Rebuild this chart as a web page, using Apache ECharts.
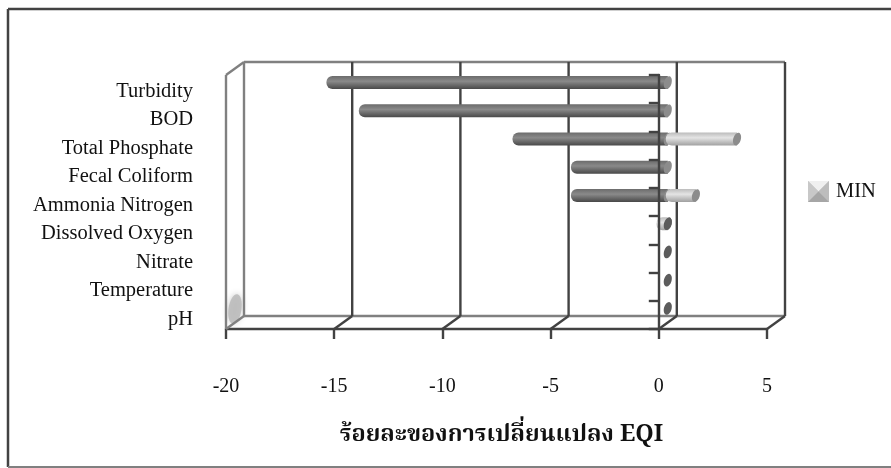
<!DOCTYPE html>
<html>
<head>
<meta charset="utf-8">
<style>html,body{margin:0;padding:0;background:#fff}#chart{width:891px;height:468px}</style>
<script src="https://cdn.jsdelivr.net/npm/echarts@6/dist/echarts.min.js"></script>
</head>
<body>
<div id="chart"></div>
<script>
// Percentage change of EQI per water quality parameter
const categories = ['Turbidity', 'BOD', 'Total Phosphate', 'Fecal Coliform', 'Ammonia Nitrogen', 'Dissolved Oxygen', 'Nitrate', 'Temperature', 'pH'];
const minValues = [0, 0, 3.2, 0, 1.3, -0.35, 0, 0, 0];
const lowValues = [-15.6, -14.1, -7.0, -4.3, -4.3, 0, 0, 0, 0];
const xTicks = [-20, -15, -10, -5, 0, 5];
const axisTitle = 'ร้อยละของการเปลี่ยนแปลง EQI';

const SERIF = '"Liberation Serif", "Times New Roman", serif';
const THAI = '"Noto Serif Thai", "Noto Sans Thai", "Liberation Serif", "DejaVu Serif", "Noto Sans", serif';
const DARK = '#424242', MID = '#808080';
// Oblique depth of the 3D frame; the bars sit halfway into it
const DX = 18, DY = -13;
const BAR_H = 13, CAP_RX = 3.8;

const grad = (a, b, c) => ({
  type: 'linear', x: 0, y: 0, x2: 0, y2: 1,
  colorStops: [{offset: 0, color: a}, {offset: 0.4, color: b}, {offset: 1, color: c}]
});
const DARK_FILL = grad('#6c6c6c', '#8a8a8a', '#484848');
const LIGHT_FILL = grad('#bcbcbc', '#e4e4e4', '#a0a0a0');

function cap(cx, cy, fill) {
  return {
    type: 'ellipse', originX: cx, originY: cy, rotation: -0.28,
    shape: {cx, cy, rx: CAP_RX, ry: BAR_H / 2}, style: {fill}
  };
}
function cylinder(x0, x1, cy, fill, capFill) {
  const kids = [];
  if (x1 > x0) {
    kids.push({
      type: 'rect',
      shape: {x: x0, y: cy - BAR_H / 2, width: x1 - x0, height: BAR_H, r: [6, 0, 0, 6]},
      style: {fill}
    });
  }
  kids.push(cap(x1, cy, capFill));
  return {type: 'group', children: kids};
}

function renderLow(params, api) {
  const v = api.value(0), idx = api.value(1);
  const p = api.coord([v, idx]), o = api.coord([0, idx]);
  const cy = p[1] + DY / 2, end = o[0] + DX / 2;
  const start = p[0] + DX / 2 - CAP_RX;
  if (v === 0) return cap(end, cy, '#5c5c5c');
  return cylinder(start, end, cy, DARK_FILL, '#8c8c8c');
}
function renderMin(params, api) {
  const v = api.value(0), idx = api.value(1);
  if (v === 0) return null;
  const p = api.coord([v, idx]), o = api.coord([0, idx]);
  const cy = p[1] + DY / 2, zero = o[0] + DX / 2, tip = p[0] + DX / 2;
  if (v < 0) return cylinder(tip - CAP_RX, zero, cy, LIGHT_FILL, '#5c5c5c');
  return cylinder(zero - 2, tip, cy, LIGHT_FILL, '#8c8c8c');
}
// One wall line and floor diagonal for every value tick
function renderFrame(params, api) {
  const v = api.value(0);
  const last = categories.length - 1;
  const band = api.size([0, 1])[1];
  const x = api.coord([v, last])[0];
  const yb = api.coord([v, last])[1] + band / 2;
  const yt = api.coord([v, 0])[1] - band / 2;
  const first = v === xTicks[0];
  const stroke = first ? MID : DARK;
  const line = (a, b, c, d, col) => ({
    type: 'line', shape: {x1: a, y1: b, x2: c, y2: d}, style: {stroke: col, lineWidth: 2.4}
  });
  const kids = [
    line(x + DX, yb + DY, x + DX, yt + DY, stroke),
    line(x, yb, x + DX, yb + DY, stroke)
  ];
  if (first) {
    const xEnd = api.coord([xTicks[xTicks.length - 1], last])[0];
    kids.push(line(x, yb, x, yt, MID));
    kids.push(line(x, yt, x + DX, yt + DY, MID));
    kids.push(line(x + DX, yt + DY, xEnd + DX, yt + DY, MID));
    kids.push(line(x + DX, yb + DY, xEnd + DX, yb + DY, MID));
  }
  return {type: 'group', children: kids};
}

const chart = echarts.init(document.getElementById('chart'), null, {renderer: 'canvas'});
chart.setOption({
  animation: false,
  backgroundColor: '#fff',
  // The second grid only spaces the category labels, which run a little wider than the bars
  grid: [
    {left: 226, right: 124, top: 75, bottom: 139},
    {left: 226, right: 124, top: 77, bottom: 134.5}
  ],
  legend: {
    data: [{name: 'MIN', icon: 'rect'}],
    left: 803, top: 176, itemWidth: 21, itemHeight: 21, itemGap: 7,
    selectedMode: false,
    itemStyle: {color: '#c4c4c4'},
    textStyle: {fontFamily: SERIF, fontSize: 20.5, color: '#111', padding: [0, 0, 0, 2]}
  },
  xAxis: [{
    type: 'value', min: -20, max: 5, interval: 5,
    axisLine: {show: true, onZero: false, lineStyle: {color: DARK, width: 2.4}},
    axisTick: {show: true, length: 10, lineStyle: {color: DARK, width: 2.4}},
    axisLabel: {margin: 48, fontFamily: SERIF, fontSize: 20, color: '#111'},
    splitLine: {show: false},
    name: axisTitle, nameLocation: 'middle', nameGap: 96,
    nameTextStyle: {fontFamily: THAI, fontSize: 23.5, fontWeight: 'bold', color: '#111', padding: [0, 0, 0, 10]}
  }, {
    type: 'value', gridIndex: 1, min: -20, max: 5, show: false
  }],
  yAxis: [{
    type: 'category', data: categories, inverse: true, position: 'left',
    axisLine: {show: false, onZero: false}, axisTick: {show: false}, axisLabel: {show: false}
  }, {
    // Category axis line crossing at zero, carrying only the tick marks
    type: 'category', data: categories, inverse: true, position: 'left',
    axisLine: {show: true, onZero: true, onZeroAxisIndex: 0, lineStyle: {color: DARK, width: 2.4}},
    axisTick: {show: true, length: 10, lineStyle: {color: DARK, width: 2.4}},
    axisLabel: {show: false}, z: 5
  }, {
    type: 'category', gridIndex: 1, data: categories, inverse: true, position: 'left',
    axisLine: {show: false, onZero: false}, axisTick: {show: false},
    axisLabel: {margin: 33, fontFamily: SERIF, fontSize: 20.5, color: '#111'}
  }],
  graphic: [
    {type: 'line', shape: {x1: 8, y1: 9, x2: 891, y2: 9}, style: {stroke: DARK, lineWidth: 2.5}},
    {type: 'line', shape: {x1: 8, y1: 9, x2: 8, y2: 467}, style: {stroke: DARK, lineWidth: 2.5}},
    {type: 'line', shape: {x1: 8, y1: 467, x2: 891, y2: 467}, style: {stroke: MID, lineWidth: 2}},
    // Shaded patch low on the side wall
    {type: 'ellipse', shape: {cx: 235, cy: 309, rx: 6.5, ry: 15}, rotation: -0.15, originX: 235, originY: 309,
     style: {fill: '#bcbcbc', opacity: 0.9, shadowBlur: 6, shadowColor: '#c4c4c4'}, z: 1},
    // Bevelled legend swatch
    {type: 'polygon', shape: {points: [[808,181],[829,181],[818.5,191.5]]}, style: {fill: '#f0f0f0'}, z: 20},
    {type: 'polygon', shape: {points: [[808,181],[818.5,191.5],[808,202]]}, style: {fill: '#c8c8c8'}, z: 20},
    {type: 'polygon', shape: {points: [[829,181],[818.5,191.5],[829,202]]}, style: {fill: '#bdbdbd'}, z: 20},
    {type: 'polygon', shape: {points: [[808,202],[829,202],[818.5,191.5]]}, style: {fill: '#a6a6a6'}, z: 20}
  ],
  series: [{
    name: 'Frame', type: 'custom', silent: true, z: 1, clip: false,
    renderItem: renderFrame, encode: {x: 0},
    data: xTicks.map(v => [v])
  }, {
    name: 'LOW', type: 'custom', z: 3, clip: false,
    renderItem: renderLow, encode: {x: 0, y: 1},
    data: lowValues.map((v, i) => [v, i])
  }, {
    name: 'MIN', type: 'custom', z: 4, clip: false,
    renderItem: renderMin, encode: {x: 0, y: 1},
    itemStyle: {color: '#c4c4c4'},
    data: minValues.map((v, i) => [v, i])
  }]
});
</script>
</body>
</html>
